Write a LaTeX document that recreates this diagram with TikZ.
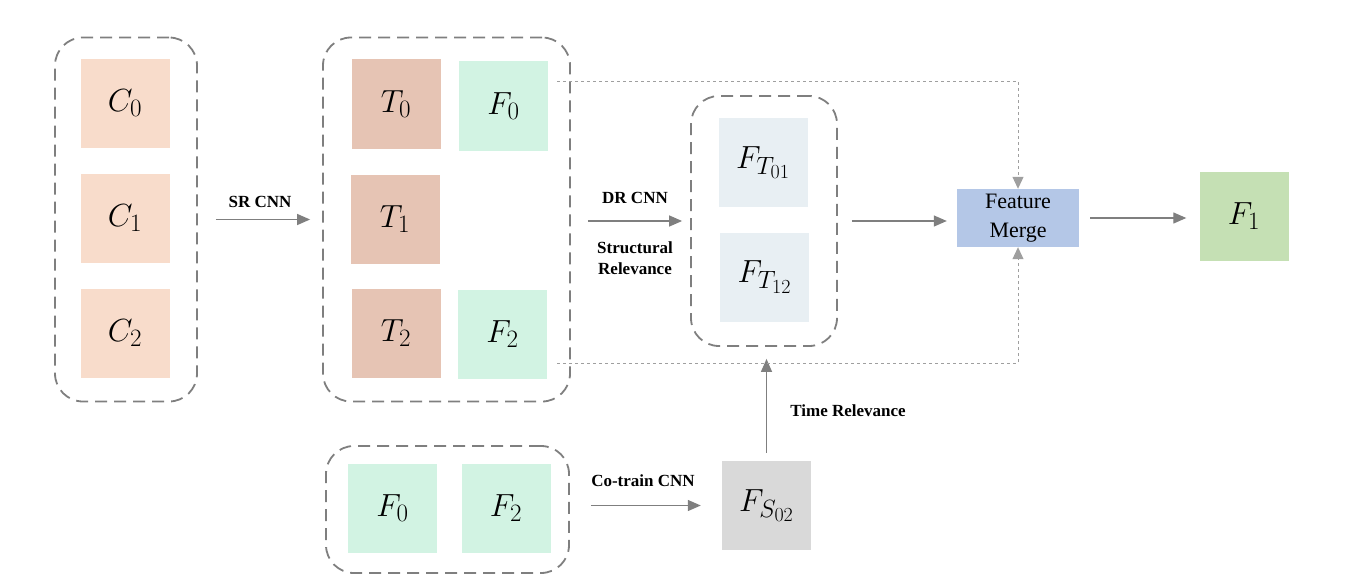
\RequirePackage{fix-cm}
\documentclass[tikz,border=0pt]{standalone}
\usepackage{fontspec}
\setmainfont{Liberation Serif}
\usetikzlibrary{arrows.meta}
\DeclareMathSizes{32}{32}{25}{20}
\definecolor{cpeach}{HTML}{F8DCCB}
\definecolor{tsalmon}{HTML}{E6C4B4}
\definecolor{fmint}{HTML}{D2F3E3}
\definecolor{ftgrey}{HTML}{E8EFF3}
\definecolor{fsgrey}{HTML}{D9D9D9}
\definecolor{mergeblue}{HTML}{B4C7E7}
\definecolor{fonegreen}{HTML}{C5E0B4}
\definecolor{linegrey}{HTML}{7F7F7F}
\tikzset{
  cell/.style={minimum width=89pt, minimum height=89pt, inner sep=0pt,
    font=\fontsize{32}{38}\selectfont},
  grp/.style={draw=linegrey, line width=1.8pt, dash pattern=on 12pt off 7pt,
    rounded corners=28pt, inner sep=0pt},
  flow/.style={draw=linegrey, line width=1.3pt, -{Triangle[length=13pt,width=11pt]}},
  tap/.style={draw=linegrey!75, line width=1pt, dash pattern=on 3pt off 3pt,
    -{Triangle[length=12pt,width=11pt]}},
  lbl/.style={font=\fontsize{17}{21}\selectfont\bfseries, align=center, inner sep=0pt},
}
\begin{document}
\begin{tikzpicture}[x=1pt,y=-1pt]
  \useasboundingbox (0,0) rectangle (1346,586);
  % dashed groups
  \node[grp, minimum width=142pt, minimum height=364pt] (gc) at (126,219.5) {};
  \node[grp, minimum width=247pt, minimum height=364pt] (gt) at (446.5,219.5) {};
  \node[grp, minimum width=146pt, minimum height=250pt] (gft) at (764,221) {};
  \node[grp, minimum width=243pt, minimum height=127pt] (gs) at (447.5,509.5) {};
  % cells
  \node[cell, fill=cpeach] (c0) at (125,103.5) {$C_0$};
  \node[cell, fill=cpeach] (c1) at (125,218) {$C_1$};
  \node[cell, fill=cpeach] (c2) at (125,333) {$C_2$};
  \node[cell, fill=tsalmon] (t0) at (396,104) {$T_0$};
  \node[cell, fill=tsalmon] (t1) at (395,219) {$T_1$};
  \node[cell, fill=tsalmon] (t2) at (396,333.5) {$T_2$};
  \node[cell, fill=fmint] (f0) at (503.5,106) {$F_0$};
  \node[cell, fill=fmint] (f2) at (502.5,334.5) {$F_2$};
  \node[cell, fill=ftgrey] (ft01) at (763,162.5) {$F_{T_{01}}$};
  \node[cell, fill=ftgrey] (ft12) at (764.5,277) {$F_{T_{12}}$};
  \node[cell, fill=fmint] (s0) at (392.5,508) {$F_0$};
  \node[cell, fill=fmint] (s2) at (506,508) {$F_2$};
  \node[cell, fill=fsgrey] (fs) at (766.5,505.5) {$F_{S_{02}}$};
  \node[cell, fill=fonegreen] (f1) at (1244,216) {$F_1$};
  \node[fill=mergeblue, minimum width=122pt, minimum height=58pt, inner sep=0pt,
    align=center, font=\fontsize{22}{29}\selectfont] (merge) at (1018,218) {Feature\\Merge};
  % arrows
  \draw[flow] ([xshift=18pt]gc.east) -- ([xshift=-12pt]gt.west);
  \draw[flow] ([xshift=17pt]gt.east |- gft.west) -- ([xshift=-8pt]gft.west);
  \draw[flow] ([xshift=14pt]gft.east) -- ([xshift=-10pt]merge.west |- gft.east);
  \draw[flow] ([xshift=11pt]merge.east) -- ([xshift=-13pt]f1.west |- merge.east);
  \draw[flow] ([xshift=21pt]gs.east |- fs.west) -- ([xshift=-21pt]fs.west);
  \draw[flow] ([yshift=8pt]fs.north) -- ([yshift=-12pt]gft.south -| fs.north);
  % dotted taps into the merge
  \coordinate (tapT) at (557,81);
  \coordinate (tapB) at (557,363);
  \draw[tap] (tapT) -| (merge.north);
  \draw[tap] (tapB) -| (merge.south);
  % labels
  \node[lbl] (srlbl) at (260,202) {SR CNN};
  \node[lbl] (drlbl) at (635,198) {DR CNN};
  \node[lbl] (stlbl) at (635,258.5) {Structural\\Relevance};
  \node[lbl] (colbl) at (643,481) {Co-train CNN};
  \node[lbl] (tmlbl) at (848,411) {Time Relevance};
\end{tikzpicture}
\end{document}
